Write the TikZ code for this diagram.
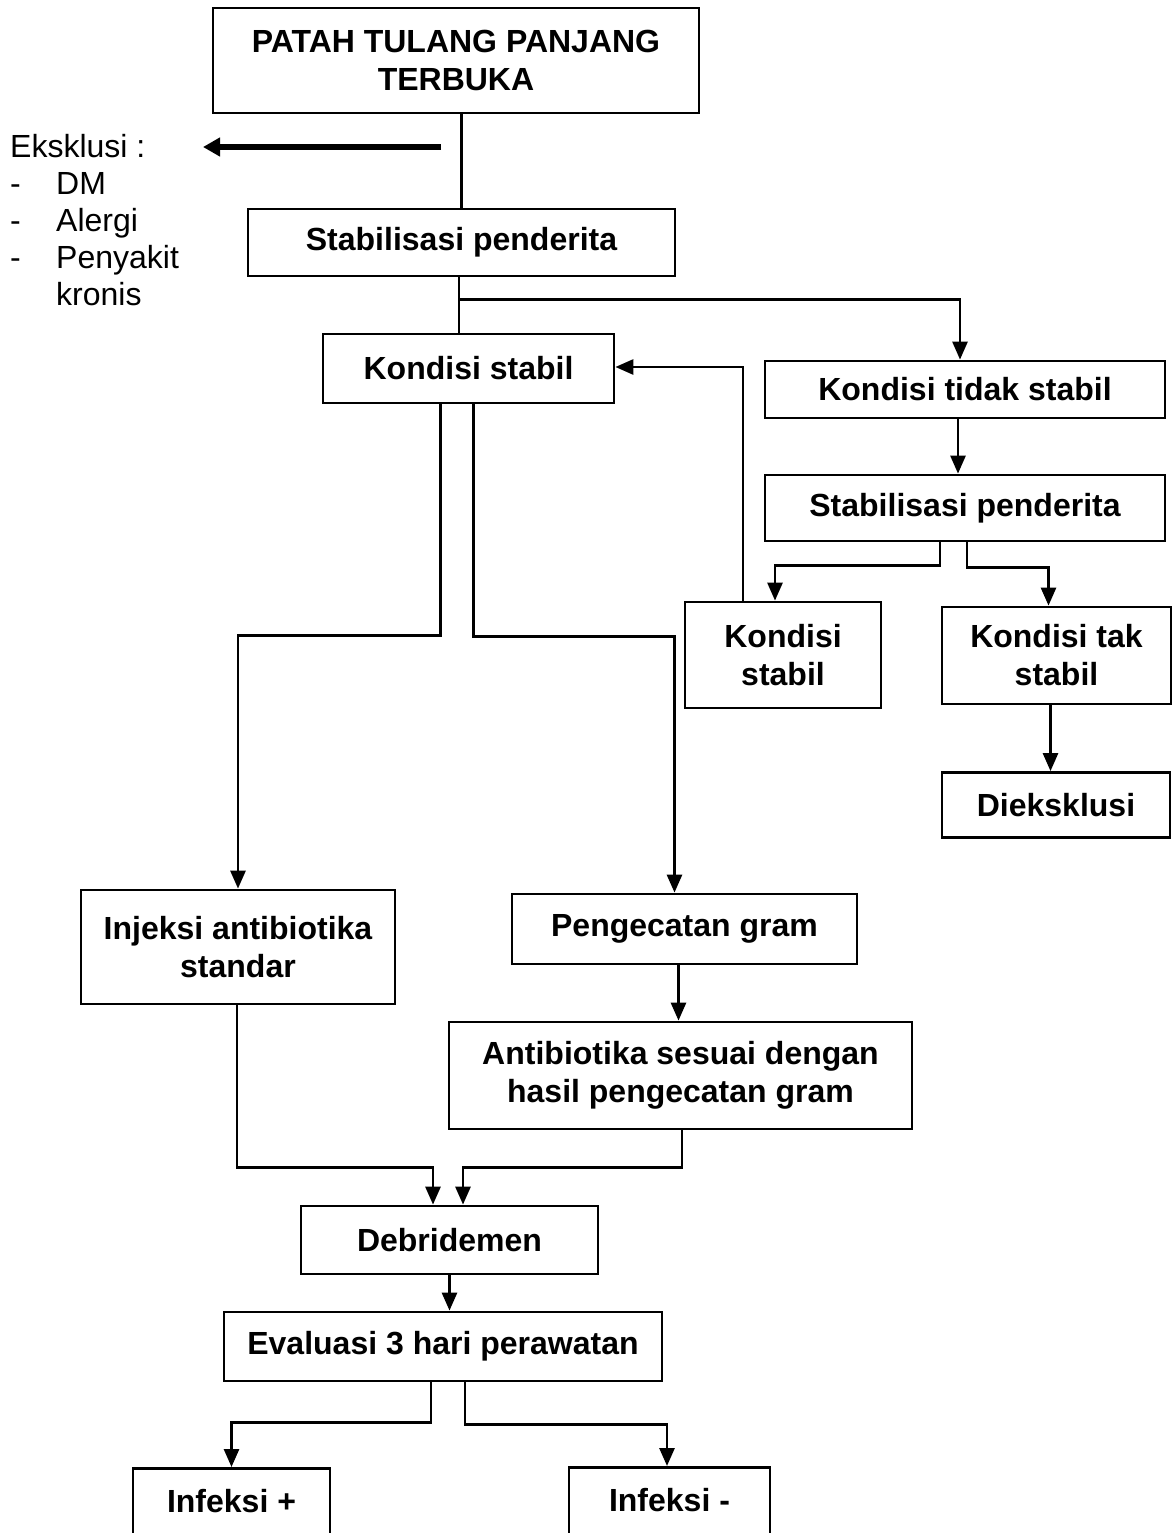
\documentclass[tikz,border=0pt]{standalone}
\usepackage{fontspec}
\setmainfont{Liberation Sans}
\usepackage{tikz}
\usetikzlibrary{arrows.meta,positioning,calc}
\tikzset{
  basebox/.style={rectangle,draw=black,line width=2.8pt,align=center,
    font=\fontsize{32}{38}\selectfont\bfseries,inner sep=4pt},
  cutbox/.style={basebox,anchor=north,minimum height=120pt,
    text height=24pt,text depth=55pt},
  line/.style={draw=black,line width=2.8pt},
  arr/.style={line,-{Triangle[length=18pt,width=15pt]}},
  thickarr/.style={draw=black,line width=5.5pt,-{Triangle[length=17pt,width=18pt]}}
}

\begin{document}
\begin{tikzpicture}[x=1pt,y=-1pt]
  \clip (0,0) rectangle (1173,1533);

  %% Top
  \node[basebox,minimum width=486pt,minimum height=105pt] (patah) at (456,60.5)
    {PATAH TULANG PANJANG\\TERBUKA};
  \node[basebox,minimum width=427pt,minimum height=67pt] (stabA) at (461.5,242.5)
    {Stabilisasi penderita};

  %% Exclusion list
  \node[anchor=north west,inner sep=0pt,align=left,font=\fontsize{32}{37}\selectfont] (eksk) at (10,131)
    {\begin{tabular}{@{}p{46pt}@{}l@{}}
     \multicolumn{2}{@{}l@{}}{Eksklusi :}\\
     - & DM\\
     - & Alergi\\
     - & Penyakit\\
       & kronis
     \end{tabular}};
  \coordinate (eksFrom) at (441,147);
  \coordinate (eksTo) at (203,147);

  %% Stable / unstable branch
  \node[basebox,minimum width=291pt,minimum height=69pt] (kondStab) at (468.5,368.5)
    {Kondisi stabil};
  \node[basebox,minimum width=400pt,minimum height=57pt] (kondTidak) at (965,389.5)
    {Kondisi tidak stabil};
  \node[basebox,minimum width=400pt,minimum height=66pt] (stabB) at (965,508)
    {Stabilisasi penderita};
  \node[basebox,minimum width=196pt,minimum height=106pt] (kondStabB) at (783,655)
    {Kondisi\\stabil};
  \node[basebox,minimum width=229pt,minimum height=97pt] (kondTak) at (1056.5,655.5)
    {Kondisi tak\\stabil};
  \node[basebox,minimum width=228pt,minimum height=65pt] (dieks) at (1056,805)
    {Dieksklusi};

  %% Treatment
  \node[basebox,minimum width=314pt,minimum height=114pt] (injeksi) at (238,947)
    {Injeksi antibiotika\\standar};
  \node[basebox,minimum width=345pt,minimum height=70pt] (gram) at (684.5,929)
    {Pengecatan gram};
  \node[basebox,minimum width=463pt,minimum height=107pt] (antibio) at (680.5,1075.5)
    {Antibiotika sesuai dengan\\hasil pengecatan gram};
  \node[basebox,minimum width=297pt,minimum height=68pt] (debri) at (449.5,1240)
    {Debridemen};
  \node[basebox,minimum width=438pt,minimum height=69pt] (evalu) at (443,1346.5)
    {Evaluasi 3 hari perawatan};
  \node[cutbox,minimum width=197pt] (infPos) at (231.5,1467)
    {Infeksi +};
  \node[cutbox,minimum width=201pt] (infNeg) at (669.5,1466)
    {Infeksi -};

  %% ── ARROWS ──────────────────────────────────────────────
  \draw[line] (stabA.north |- patah.south) -- (stabA.north);
  \draw[thickarr] (eksFrom) -- (eksTo);

  \draw[line] ([xshift=-2.5pt]stabA.south) -- ([xshift=-2.5pt]stabA.south |- kondStab.north);
  \draw[arr] ([xshift=-2.5pt]stabA.south) -- ++(0,22) -| ([xshift=-5pt]kondTidak.north);
  \draw[arr] ([xshift=-7pt]kondTidak.south) -- ([xshift=-7pt]kondTidak.south |- stabB.north);
  \draw[arr] ([xshift=-25pt]stabB.south) -- ++(0,23) -| ([xshift=-8pt]kondStabB.north);
  \draw[arr] ([xshift=2pt]stabB.south) -- ++(0,25) -| ([xshift=-8pt]kondTak.north);
  \draw[arr] ([xshift=-40pt]kondStabB.north) |- ([yshift=1.5pt]kondStab.east);
  \draw[arr] ([xshift=-6pt]kondTak.south) -- ([xshift=-6pt]kondTak.south |- dieks.north);

  \draw[arr] ([xshift=-28pt]kondStab.south) -- ++(0,231) -| (injeksi.north);
  \draw[arr] ([xshift=5pt]kondStab.south) -- ++(0,232) -| ([xshift=-10pt]gram.north);
  \draw[arr] ([xshift=-6pt]gram.south) -- ([xshift=-6pt]gram.south |- antibio.north);

  \draw[arr] ([xshift=-1pt]injeksi.south) -- ++(0,162) -| ([xshift=-16.5pt]debri.north);
  \draw[arr] ([xshift=1.5pt]antibio.south) -- ++(0,37) -| ([xshift=13.5pt]debri.north);
  \draw[arr] (debri.south) -- (debri.south |- evalu.north);
  \draw[arr] ([xshift=-12pt]evalu.south) -- ++(0,40) -| (infPos.north);
  \draw[arr] ([xshift=22pt]evalu.south) -- ++(0,42) -| ([xshift=-2.5pt]infNeg.north);

\end{tikzpicture}
\end{document}
